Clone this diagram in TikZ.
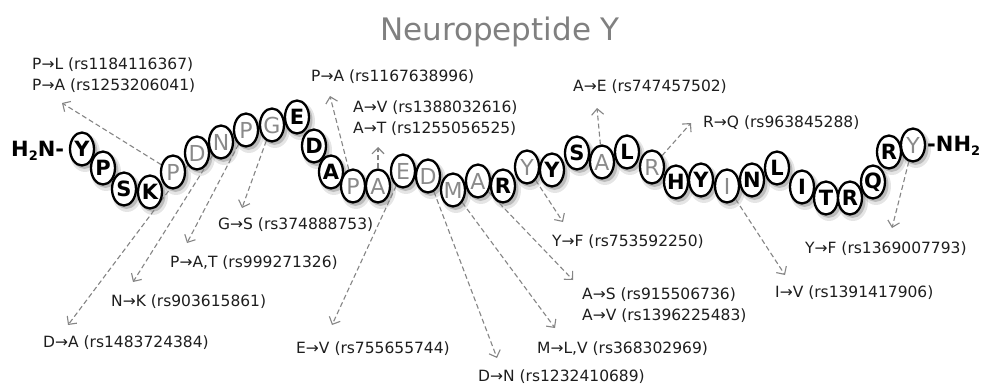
\documentclass[tikz,border=0pt]{standalone}
\usepackage{fontspec}
\setmainfont{DejaVu Sans}
\usetikzlibrary{arrows.meta,backgrounds,shapes.geometric}
\definecolor{arrowgray}{HTML}{858585}
\definecolor{resgray}{HTML}{8A8A8A}
\definecolor{titlegray}{HTML}{808080}
\definecolor{txt}{HTML}{1E1E1E}
\tikzset{
  resbase/.style={ellipse, draw=black, line width=2.3pt, fill=white,
    minimum width=24pt, minimum height=33pt, inner sep=0pt},
  resk/.style={resbase, text=black, font=\fontsize{21}{21}\selectfont\bfseries},
  resg/.style={resbase, text=resgray, font=\fontsize{22}{22}\selectfont},
  lbl/.style={anchor=west, inner sep=0pt, text=txt, font=\fontsize{15.5}{21}\selectfont, align=left},
  snp/.style={draw=arrowgray, dash pattern=on 5pt off 3pt, line width=1.1pt,
    -{Straight Barb[length=6pt,width=12pt,line width=1.1pt]}},
  term/.style={anchor=west, inner sep=0pt, font=\fontsize{21}{21}\selectfont\bfseries},
}
\begin{document}
\begin{tikzpicture}[x=1pt,y=-1pt]
\useasboundingbox (0,0) rectangle (986,388);

% title
\node[text=titlegray, font=\fontsize{31}{31}\selectfont] (title) at (500,32) {Neuropeptide Y};

% residues
\foreach \i/\x/\y/\l/\c in {
 1/82/149/Y/k, 2/103/168/P/k, 3/124/189/S/k, 4/150/192/K/k,
 5/173/172/P/g, 6/197/153/D/g, 7/221/142/N/g, 8/246/130/P/g,
 9/272/125/G/g, 10/297/117/E/k, 11/314/146/D/k, 12/331/172/A/k,
 13/353/186/P/g, 14/378/186/A/g, 15/403/171/E/g, 16/428/176/D/g,
 17/453/190/M/g, 18/478/181/A/g, 19/503/186/R/k, 20/527/167/Y/g,
 21/552/170/Y/k, 22/577/153/S/k, 23/602/162/A/g, 24/627/152/L/k,
 25/652/167/R/g, 26/676/182/H/k, 27/701/180/Y/k, 28/727/186/I/g,
 29/752/180/N/k, 30/777/168/L/k, 31/802/187/I/k, 32/826/198/T/k,
 33/850/198/R/k, 34/873/182/Q/k, 35/889/152/R/k, 36/913/145/Y/g}
{
  \node[res\c] (r\i) at (\x,\y) {\makebox[0pt]{\l}};
}

% termini
\node[term] (nterm) at (11,151) {H\raisebox{-4pt}{\fontsize{13}{13}\selectfont 2}N-};
\node[term] (cterm) at (927,146) {-NH\raisebox{-4pt}{\fontsize{13}{13}\selectfont 2}};

% labels
\node[lbl] (l5)  at (32,75.5) {P→L (rs1184116367)\\P→A (rs1253206041)};
\node[lbl] (l13) at (311,77) {P→A (rs1167638996)};
\node[lbl] (l14) at (353,118.5) {A→V (rs1388032616)\\A→T (rs1255056525)};
\node[lbl] (l23) at (573,87) {A→E (rs747457502)};
\node[lbl] (l25) at (703,123) {R→Q (rs963845288)};
\node[lbl] (l9)  at (218,225) {G→S (rs374888753)};
\node[lbl] (l8)  at (170,263) {P→A,T (rs999271326)};
\node[lbl] (l7)  at (111,302) {N→K (rs903615861)};
\node[lbl] (l6)  at (43,343) {D→A (rs1483724384)};
\node[lbl] (l15) at (296,349) {E→V (rs755655744)};
\node[lbl] (l16) at (478,377) {D→N (rs1232410689)};
\node[lbl] (l17) at (537,349) {M→L,V (rs368302969)};
\node[lbl] (l18) at (582,305.5) {A→S (rs915506736)\\A→V (rs1396225483)};
\node[lbl] (l20) at (552,242) {Y→F (rs753592250)};
\node[lbl] (l28) at (775,293) {I→V (rs1391417906)};
\node[lbl] (l36) at (805,249) {Y→F (rs1369007793)};

% arrow targets
\coordinate (t5)  at (62,103);
\coordinate (t13) at (330,96);
\coordinate (t14) at (378,147);
\coordinate (t9)  at (242,208);
\coordinate (t8)  at (187,243);
\coordinate (t7)  at (133,282);
\coordinate (t6)  at (68,325);
\coordinate (t15) at (332,325);
\coordinate (t16) at (497,358);
\coordinate (t17) at (555,328);
\coordinate (t18) at (573,280);
\coordinate (t20) at (563,222);
\coordinate (t23) at (597,108);
\coordinate (t25) at (691,123);
\coordinate (t28) at (785,275);
\coordinate (t36) at (892,228);

\begin{pgfonlayer}{background}
  \fill[white] (0,0) rectangle (986,388);
  % shadows
  \foreach \i in {1,...,36}{
    \fill[black, opacity=0.10] ([shift={(3,4)}]r\i.center) ellipse (15 and 19);
    \fill[black, opacity=0.18] ([shift={(2.5,3)}]r\i.center) ellipse (13 and 17);
  }
  % SNP connectors
  \foreach \i in {5,13,14,9,8,7,6,15,16,17,18,20,23,25,28,36}{
    \draw[snp] (r\i) -- (t\i);
  }
\end{pgfonlayer}
\end{tikzpicture}
\end{document}
